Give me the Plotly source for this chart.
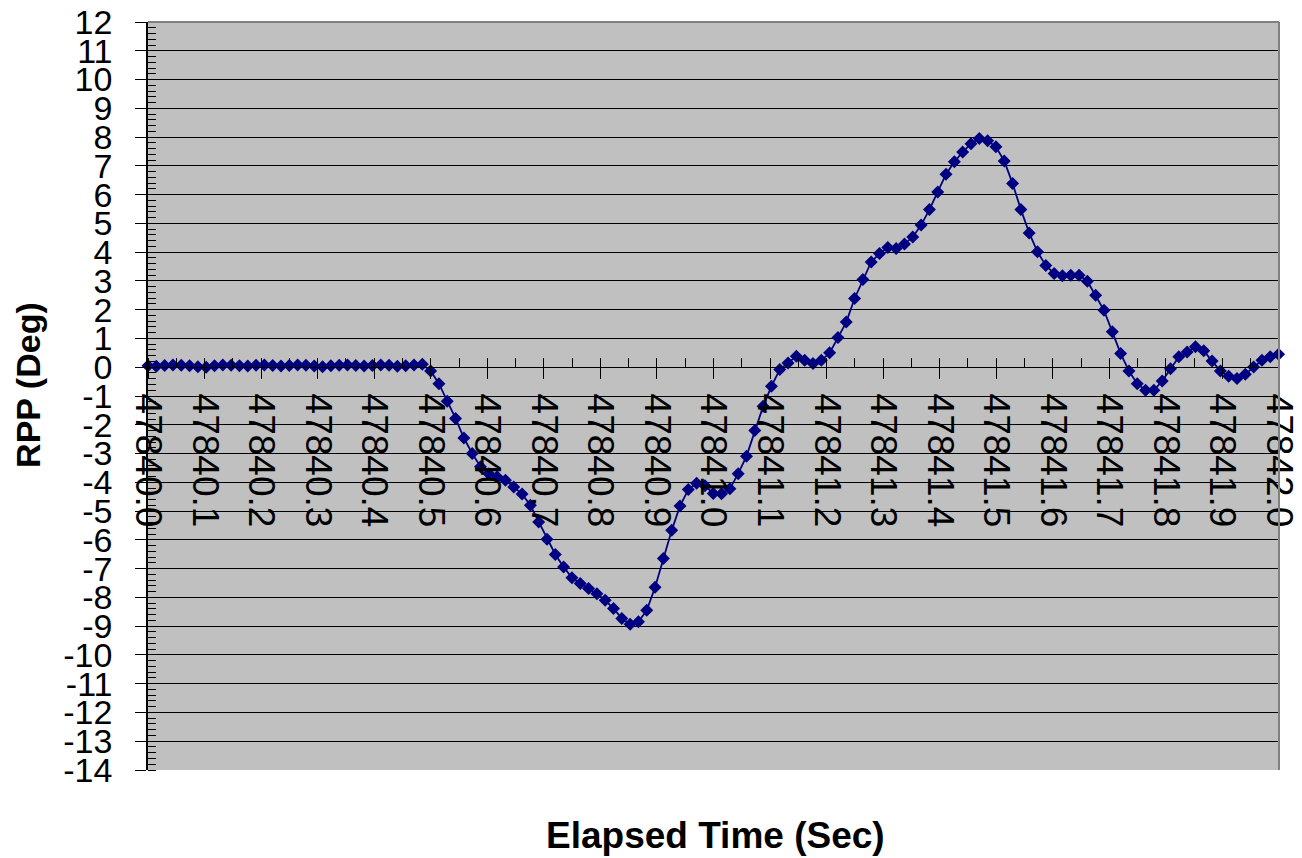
import plotly.graph_objects as go

# ---- data ----
base_time = 47840.0
time_offsets = [
    0.0000, 0.0147, 0.0294, 0.0441, 0.0588, 0.0735, 0.0882, 0.1029, 0.1176, 0.1323,
    0.1470, 0.1617, 0.1764, 0.1911, 0.2058, 0.2205, 0.2352, 0.2499, 0.2646, 0.2793,
    0.2940, 0.3087, 0.3234, 0.3381, 0.3528, 0.3675, 0.3822, 0.3969, 0.4116, 0.4263,
    0.4410, 0.4557, 0.4704, 0.4851, 0.4998, 0.5145, 0.5292, 0.5439, 0.5586, 0.5733,
    0.5880, 0.6027, 0.6174, 0.6321, 0.6468, 0.6615, 0.6762, 0.6909, 0.7056, 0.7203,
    0.7350, 0.7497, 0.7644, 0.7791, 0.7938, 0.8085, 0.8232, 0.8379, 0.8526, 0.8673,
    0.8820, 0.8967, 0.9114, 0.9261, 0.9408, 0.9555, 0.9702, 0.9849, 0.9996, 1.0143,
    1.0290, 1.0437, 1.0584, 1.0731, 1.0878, 1.1025, 1.1172, 1.1319, 1.1466, 1.1613,
    1.1760, 1.1907, 1.2054, 1.2201, 1.2348, 1.2495, 1.2642, 1.2789, 1.2936, 1.3083,
    1.3230, 1.3377, 1.3524, 1.3671, 1.3818, 1.3965, 1.4112, 1.4259, 1.4406, 1.4553,
    1.4700, 1.4847, 1.4994, 1.5141, 1.5288, 1.5435, 1.5582, 1.5729, 1.5876, 1.6023,
    1.6170, 1.6317, 1.6464, 1.6611, 1.6758, 1.6905, 1.7052, 1.7199, 1.7346, 1.7493,
    1.7640, 1.7787, 1.7934, 1.8081, 1.8228, 1.8375, 1.8522, 1.8669, 1.8816, 1.8963,
    1.9110, 1.9257, 1.9404, 1.9551, 1.9698, 1.9845, 1.9992,
]
rpp_deg = [
    0.05, 0.03, 0.06, 0.08, 0.07, 0.05, 0.02, 0.00, 0.05, 0.08,
    0.07, 0.05, 0.04, 0.07, 0.08, 0.06, 0.04, 0.06, 0.08, 0.07,
    0.04, 0.02, 0.05, 0.07, 0.08, 0.06, 0.04, 0.06, 0.08, 0.07,
    0.03, 0.05, 0.08, 0.10,
    -0.13, -0.57, -1.18, -1.78, -2.46, -3.00, -3.46, -3.70, -3.81, -3.93,
    -4.16, -4.41, -4.80, -5.38, -5.98, -6.51, -6.94, -7.32, -7.52, -7.69,
    -7.87, -8.10, -8.39, -8.73, -8.93, -8.85, -8.45, -7.65, -6.65, -5.67,
    -4.82, -4.25, -4.03, -4.12, -4.39, -4.40, -4.22, -3.70, -3.09, -2.20,
    -1.36, -0.66, -0.08, 0.15, 0.38, 0.24, 0.13, 0.24, 0.50, 1.03,
    1.57, 2.39, 3.05, 3.66, 3.95, 4.16, 4.13, 4.28, 4.53, 4.94,
    5.48, 6.09, 6.71, 7.14, 7.48, 7.77, 7.95, 7.87, 7.66, 7.17,
    6.39, 5.48, 4.67, 4.01, 3.54, 3.26, 3.18, 3.20, 3.20, 2.99,
    2.50, 1.98, 1.23, 0.48, -0.13, -0.57, -0.80, -0.80, -0.48, -0.05,
    0.36, 0.53, 0.71, 0.57, 0.22, -0.13, -0.31, -0.39, -0.24, 0.01,
    0.24, 0.36, 0.45,
]

x_tick_values = [47840.0, 47840.1, 47840.2, 47840.3, 47840.4, 47840.5, 47840.6,
                 47840.7, 47840.8, 47840.9, 47841.0, 47841.1, 47841.2, 47841.3,
                 47841.4, 47841.5, 47841.6, 47841.7, 47841.8, 47841.9, 47842.0]
x_tick_labels = ["47840.0", "47840.1", "47840.2", "47840.3", "47840.4", "47840.5",
                 "47840.6", "47840.7", "47840.8", "47840.9", "47841.0", "47841.1",
                 "47841.2", "47841.3", "47841.4", "47841.5", "47841.6", "47841.7",
                 "47841.8", "47841.9", "47842.0"]
y_tick_values = [-14, -13, -12, -11, -10, -9, -8, -7, -6, -5, -4, -3, -2, -1,
                 0, 1, 2, 3, 4, 5, 6, 7, 8, 9, 10, 11, 12]
y_tick_labels = ["-14", "-13", "-12", "-11", "-10", "-9", "-8", "-7", "-6", "-5",
                 "-4", "-3", "-2", "-1", "0", "1", "2", "3", "4", "5", "6", "7",
                 "8", "9", "10", "11", "12"]
x_title = "Elapsed Time (Sec)"
y_title = "RPP (Deg)"

times = [base_time + o for o in time_offsets]

FONT = "Liberation Sans, Arial, sans-serif"
NAVY = "#000080"
x_range = [x_tick_values[0], x_tick_values[-1]]
y_range = [y_tick_values[0], y_tick_values[-1]]
zero_pos = (0 - y_range[0]) / (y_range[1] - y_range[0])

fig = go.Figure()
fig.add_trace(go.Scatter(
    x=times, y=rpp_deg, mode="lines+markers",
    line=dict(color=NAVY, width=1.8),
    marker=dict(symbol="diamond", size=10, color=NAVY),
    cliponaxis=False, showlegend=False, hoverinfo="x+y",
))
# helper trace so the overlay axis (upper half of the crossing major ticks) is drawn
fig.add_trace(go.Scatter(
    x=[times[0]], y=[rpp_deg[0]], xaxis="x2", mode="markers",
    marker=dict(opacity=0), showlegend=False, hoverinfo="skip",
))

fig.update_layout(
    width=1302, height=858,
    margin=dict(l=148, r=23, t=22, b=88),
    paper_bgcolor="white", plot_bgcolor="#C0C0C0",
    font=dict(family=FONT, color="black"),
    xaxis=dict(
        range=x_range, anchor="free", position=zero_pos,
        tickmode="array", tickvals=x_tick_values, ticktext=x_tick_labels,
        tickangle=90, ticks="outside", ticklen=11, tickwidth=1, tickcolor="black",
        showline=True, linecolor="black", linewidth=1,
        showgrid=False, zeroline=False, automargin=False,
        tickfont=dict(family=FONT, size=37, color="black"),
        ticklabelstandoff=7,
        minor=dict(tickmode="linear", tick0=47840.0, dtick=0.05, ticks="inside",
                   ticklen=9, tickwidth=1, tickcolor="black", showgrid=False),
    ),
    xaxis2=dict(
        range=x_range, overlaying="x", anchor="free", position=zero_pos,
        tickmode="linear", tick0=47840.0, dtick=0.1, ticks="inside", ticklen=9,
        tickwidth=1, tickcolor="black", showticklabels=False, showline=False,
        showgrid=False, zeroline=False, automargin=False,
    ),
    yaxis=dict(
        range=y_range, tickmode="array", tickvals=y_tick_values, ticktext=y_tick_labels,
        ticks="outside", ticklen=11, tickwidth=1, tickcolor="black",
        showline=True, linecolor="black", linewidth=1.5,
        showgrid=True, gridcolor="black", gridwidth=1, zeroline=False,
        automargin=False,
        tickfont=dict(family=FONT, size=34, color="black"),
        ticklabelstandoff=16,
        minor=dict(tickmode="linear", tick0=0, dtick=0.2, ticks="inside",
                   ticklen=8, tickwidth=1, tickcolor="black", showgrid=False),
    ),
    shapes=[
        dict(type="line", xref="paper", yref="paper", x0=0, x1=1, y0=1, y1=1,
             line=dict(color="#808080", width=2), layer="above"),
        dict(type="line", xref="paper", yref="paper", x0=1, x1=1, y0=0, y1=1,
             line=dict(color="#808080", width=2), layer="above"),
    ],
    annotations=[
        dict(text="<b>" + x_title + "</b>", xref="paper", yref="paper",
             x=0.502, y=-0.088, xanchor="center", yanchor="middle",
             showarrow=False, font=dict(family=FONT, size=37, color="black")),
        dict(text="<b>" + y_title + "</b>", xref="paper", yref="paper",
             x=-0.106, y=0.515, xanchor="center", yanchor="middle", textangle=-90,
             showarrow=False, font=dict(family=FONT, size=34, color="black")),
    ],
)

fig.write_html("out.html", config={"displayModeBar": False},
               post_script="document.body.style.margin='0';")
